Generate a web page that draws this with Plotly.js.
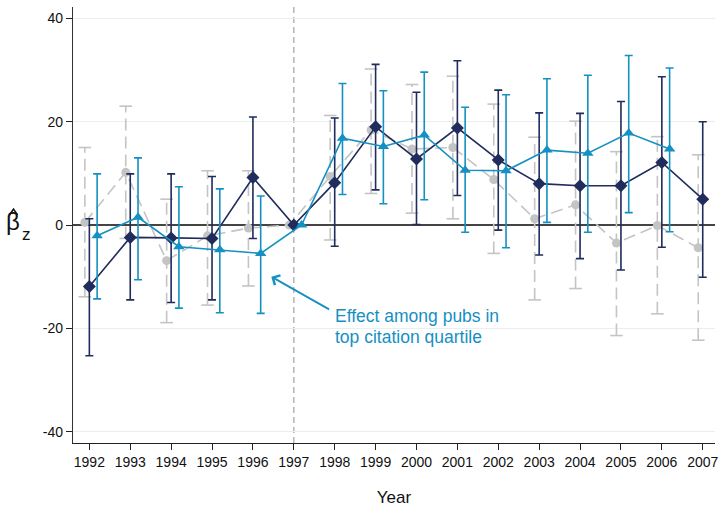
<!DOCTYPE html>
<html>
<head>
<meta charset="utf-8">
<script src="https://cdn.plot.ly/plotly-3.0.1.min.js"></script>
<style>html,body{margin:0;padding:0;background:#fff;}#chart{width:722px;height:507px;}</style>
</head>
<body>
<div id="chart"></div>
<script>
const years = [1992,1993,1994,1995,1996,1997,1998,1999,2000,2001,2002,2003,2004,2005,2006,2007];

// Gray series (all pubs, dashed)
const grayEst = [0.5,10.2,-6.9,-2.1,-0.6,0,9.4,18.4,14.7,15.0,8.8,1.2,3.9,-3.5,-0.1,-4.4];
const grayHi  = [15.0,23.0,5.0,10.5,10.5,0,21.2,30.2,27.2,28.8,23.4,17.0,20.1,14.2,17.1,13.6];
const grayLo  = [-13.9,-2.6,-18.9,-15.5,-11.8,0,-2.9,6.1,2.3,1.2,-5.5,-14.5,-12.3,-21.4,-17.2,-22.3];

// Navy series (diamonds)
const navyEst = [-11.9,-2.4,-2.5,-2.6,9.2,0,8.2,19.0,12.8,18.8,12.6,8.0,7.6,7.6,12.1,5.0];
const navyHi  = [1.2,9.9,9.9,9.4,20.9,0,20.7,31.1,25.7,31.8,26.1,21.7,21.6,23.9,28.7,20.0];
const navyLo  = [-25.3,-14.5,-15.0,-14.5,-2.6,0,-4.1,6.8,0.1,5.7,-1.0,-5.8,-6.5,-8.7,-4.3,-10.1];

// Teal series (triangles, top citation quartile) — no 2007 value
const tealYears = [1992,1993,1994,1995,1996,1997,1998,1999,2000,2001,2002,2003,2004,2005,2006];
const tealEst = [-2.1,1.5,-4.2,-4.8,-5.5,0,16.8,15.2,17.4,10.6,10.5,14.5,13.9,17.8,14.7];
const tealHi  = [9.9,13.0,7.4,7.0,5.6,0,27.4,26.0,29.6,22.8,25.2,28.3,29.0,32.8,30.4];
const tealLo  = [-14.3,-10.6,-16.1,-17.0,-17.1,0,5.9,4.1,4.9,-1.4,-4.4,0.5,-1.4,2.4,-1.3];

const xTickLabels = years.map(String);
const yTickVals = [-40,-20,0,20,40];
const yTickText = ['-40','-20','0','20','40'];

const GRAY = '#c4c4c4', NAVY = '#1f2c5c', TEAL = '#1590c2';
const offGray = -0.11, offNavy = 0, offTeal = 0.19;

function shift(xs, d){ return xs.map(v => v + d); }

// dashed gray CI segments (built from arrays)
const gx = [], gy = [], gcx = [], gcy = [];
years.forEach((yr,i) => {
  if (grayHi[i] === grayLo[i]) return;
  gx.push(yr+offGray, yr+offGray, null);
  gy.push(grayLo[i], grayHi[i], null);
  gcx.push(yr+offGray, yr+offGray);
  gcy.push(grayLo[i], grayHi[i]);
});

function ci(est, hi, lo){
  return {type:'data', symmetric:false,
    array: hi.map((h,i)=>h-est[i]), arrayminus: lo.map((l,i)=>est[i]-l),
    width:4, thickness:1.6};
}

const traces = [
  {x: gx, y: gy, mode:'lines', line:{color:GRAY, width:1.6, dash:'12px,6px'}, hoverinfo:'skip', showlegend:false},
  {x: gcx, y: gcy, mode:'markers', marker:{symbol:'line-ew', size:9, line:{color:GRAY, width:1.6}}, hoverinfo:'skip', showlegend:false},
  {x: shift(years,offGray), y: grayEst, mode:'lines+markers',
   line:{color:GRAY, width:1.6, dash:'12px,6px'}, marker:{symbol:'circle', size:9, color:GRAY}, showlegend:false},
  {x: shift(years,offNavy), y: navyEst, mode:'lines+markers',
   line:{color:NAVY, width:1.6}, marker:{symbol:'diamond', size:10, color:NAVY},
   error_y: Object.assign(ci(navyEst,navyHi,navyLo), {color:NAVY}), showlegend:false},
  {x: shift(tealYears,offTeal), y: tealEst, mode:'lines+markers',
   line:{color:TEAL, width:1.6}, marker:{symbol:'triangle-up', size:10, color:TEAL},
   error_y: Object.assign(ci(tealEst,tealHi,tealLo), {color:TEAL}), showlegend:false}
];

const layout = {
  width:722, height:507,
  margin:{l:73, r:7, t:7, b:64},
  paper_bgcolor:'#ffffff', plot_bgcolor:'#ffffff',
  font:{family:'Liberation Sans, Arial, sans-serif', color:'#111', size:14},
  showlegend:false,
  xaxis:{range:[1991.6,2007.3], tickmode:'array', tickvals:years, ticktext:xTickLabels,
    ticks:'outside', ticklen:6, tickwidth:1, tickcolor:'#222', showgrid:false, zeroline:false,
    showline:true, linecolor:'#222', linewidth:1.2, tickfont:{size:14, color:'#111'},
    title:{text:'Year', font:{size:17, color:'#111'}, standoff:24}},
  yaxis:{range:[-42.2,42.2], tickmode:'array', tickvals:yTickVals, ticktext:yTickText,
    ticks:'outside', ticklen:6, tickwidth:1, tickcolor:'#222', showgrid:true, gridcolor:'#e8eff0', gridwidth:1,
    zeroline:true, zerolinecolor:'#444', zerolinewidth:1.2,
    showline:true, linecolor:'#333', linewidth:1.2, tickfont:{size:14, color:'#111'}},
  shapes:[
    {type:'line', xref:'x', yref:'paper', x0:1997, x1:1997, y0:0, y1:1,
     line:{color:'#b0b0b0', width:1.4, dash:'6px,4px'}, layer:'below'},
    // circumflex (hat) over beta in the y-axis title
    {type:'path', xref:'paper', yref:'paper',
     path:'M -0.0989 0.5229 L -0.0927 0.5367 L -0.0864 0.5229',
     line:{color:'#111', width:1.5}}
  ],
  annotations:[
    {xref:'paper', yref:'paper', x:-0.0935, y:0.507, xanchor:'center', yanchor:'middle', showarrow:false,
     text:'β', font:{size:24, color:'#111', family:'Liberation Sans, Arial, sans-serif'}},
    {xref:'paper', yref:'paper', x:-0.0717, y:0.478, xanchor:'center', yanchor:'middle', showarrow:false,
     text:'z', font:{size:17, color:'#111', family:'Liberation Sans, Arial, sans-serif'}},
    {x:1996.45, y:-10.0, xref:'x', yref:'y', ax:1997.9, ay:-16.5, axref:'x', ayref:'y',
     showarrow:true, arrowhead:4, arrowsize:1.2, arrowwidth:1.8, arrowcolor:TEAL, text:''},
    {x:1997.97, y:-17.7, xref:'x', yref:'y', xanchor:'left', yanchor:'middle', showarrow:false,
     text:'Effect among pubs in', font:{size:17.5, color:TEAL}},
    {x:1997.97, y:-21.65, xref:'x', yref:'y', xanchor:'left', yanchor:'middle', showarrow:false,
     text:'top citation quartile', font:{size:17.5, color:TEAL}}
  ]
};

Plotly.newPlot('chart', traces, layout, {displayModeBar:false, staticPlot:true});
</script>
</body>
</html>
